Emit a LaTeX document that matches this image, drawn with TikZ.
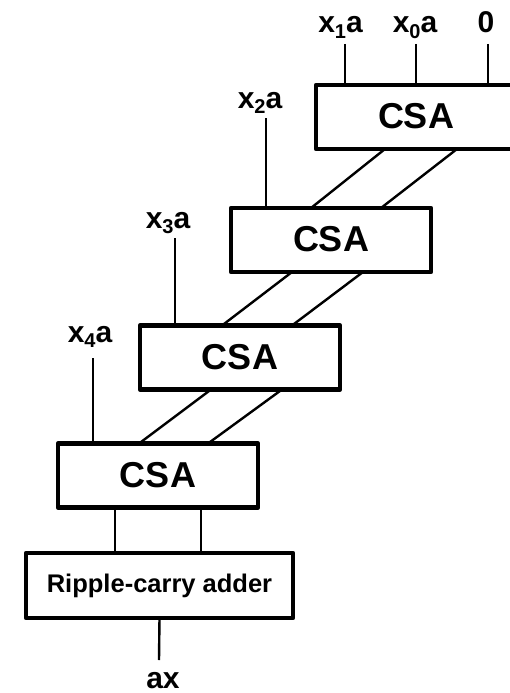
\documentclass[tikz,border=0pt]{standalone}
\usepackage{fontspec}
\setmainfont{Liberation Sans}
\usetikzlibrary{calc}
\tikzset{x=1pt,y=-1pt,
  csabox/.style={draw=black,line width=4.6pt,outer sep=0pt,minimum width=200pt,minimum height=64pt,inner sep=0pt,font=\fontsize{36}{38}\bfseries\selectfont,line join=round},
  addbox/.style={draw=black,line width=4.6pt,outer sep=0pt,minimum width=267pt,minimum height=65pt,inner sep=0pt,font=\fontsize{25.5}{28}\bfseries\selectfont,line join=round},
  wire/.style={draw=black,line width=2.4pt},
  lab/.style={inner sep=0pt,font=\fontsize{30}{32}\bfseries\selectfont,anchor=base}
}
\newcommand{\lbl}[1]{x\raisebox{-0.18em}{\fontsize{20}{22}\bfseries\selectfont #1}a}
\newcommand{\up}[1]{\raisebox{1.8pt}{#1}}
\begin{document}
\begin{tikzpicture}
\useasboundingbox (0,0) rectangle (510,693);
\clip (0,0) rectangle (510,693);
\node[csabox] (c1) at (416,117) {\up{CSA}};
\node[csabox] (c2) at (331,240) {\up{CSA}};
\node[csabox] (c3) at (240,357.5) {\up{CSA}};
\node[csabox] (c4) at (158,475.5) {\up{CSA}};
\node[addbox] (rc) at (159.5,585.5) {\up{Ripple-carry adder}};
\node[lab] (l1) at (340.5,33) {\lbl{1}};
\node[lab] (l0) at (415,33) {\lbl{0}};
\node[lab] (lz) at (486,33) {0};
\node[lab] (l2) at (260,108) {\lbl{2}};
\node[lab] (l3) at (168,228) {\lbl{3}};
\node[lab] (l4) at (90,342) {\lbl{4}};
\node[lab] (ax) at (163,688) {ax};
\coordinate (t1) at (345,44);
\coordinate (t0) at (416,44);
\coordinate (tz) at (488,44);
\coordinate (t2) at (266,118);
\coordinate (t3) at (175,238);
\coordinate (t4) at (93,358);
\coordinate (tx) at (159,660);
\draw[wire] (t1) -- (t1 |- c1.north);
\draw[wire] (t0) -- (t0 |- c1.north);
\draw[wire] (tz) -- (tz |- c1.north);
\draw[wire] (t2) -- (t2 |- c2.north);
\draw[wire] (t3) -- (t3 |- c3.north);
\draw[wire] (t4) -- (t4 |- c4.north);
\draw[wire] ($(c1.south west)+(69,0)$) -- ($(c2.north west)+(80,0)$);
\draw[wire] ($(c1.south west)+(141,0)$) -- ($(c2.north west)+(150,0)$);
\draw[wire] ($(c2.south west)+(61,0)$) -- ($(c3.north west)+(82,0)$);
\draw[wire] ($(c2.south west)+(132,0)$) -- ($(c3.north west)+(152,0)$);
\draw[wire] ($(c3.south west)+(71,0)$) -- ($(c4.north west)+(81,0)$);
\draw[wire] ($(c3.south west)+(142,0)$) -- ($(c4.north west)+(150,0)$);
\draw[wire] ($(c4.south west)+(57,0)$) -- ($(rc.north west)+(89,0)$);
\draw[wire] ($(c4.south west)+(143,0)$) -- ($(rc.north west)+(175,0)$);
\draw[wire] (rc.south) -- (tx);
\end{tikzpicture}
\end{document}
